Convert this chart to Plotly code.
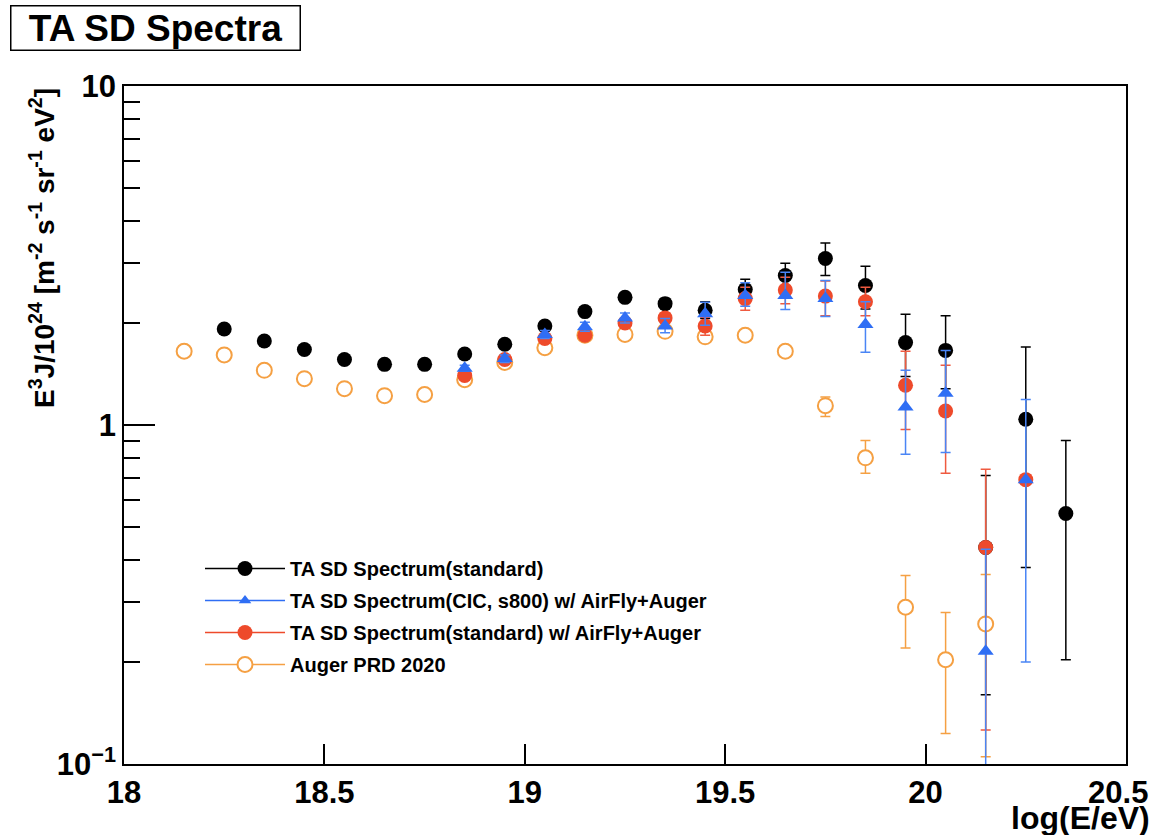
import plotly.graph_objects as go

# ---------------- data ----------------
# TA SD Spectrum (standard)
ta_x = [18.25, 18.35, 18.45, 18.55, 18.65, 18.75, 18.85, 18.95, 19.05, 19.15, 19.25, 19.35,
        19.45, 19.55, 19.65, 19.75, 19.85, 19.95, 20.05, 20.15, 20.25, 20.35]
ta_y = [1.92, 1.77, 1.67, 1.56, 1.51, 1.51, 1.62, 1.73, 1.96, 2.16, 2.38, 2.28,
        2.18, 2.51, 2.76, 3.10, 2.58, 1.75, 1.66, 0.435, 1.04, 0.548]
ta_hi = [1.95, 1.80, 1.70, 1.59, 1.54, 1.54, 1.66, 1.77, 2.01, 2.22, 2.45, 2.36,
         2.31, 2.69, 3.00, 3.44, 2.94, 2.12, 2.10, 0.71, 1.70, 0.90]
ta_lo = [1.89, 1.74, 1.64, 1.53, 1.48, 1.48, 1.58, 1.69, 1.91, 2.10, 2.31, 2.20,
         2.06, 2.35, 2.55, 2.76, 2.20, 1.39, 1.28, 0.16, 0.38, 0.203]

# TA SD Spectrum (CIC, s800) w/ AirFly+Auger
cic_x = [18.85, 18.95, 19.05, 19.15, 19.25, 19.35, 19.45, 19.55, 19.65, 19.75, 19.85,
         19.95, 20.05, 20.15, 20.25]
cic_y = [1.47, 1.57, 1.85, 1.95, 2.07, 1.96, 2.13, 2.41, 2.41, 2.36, 1.98,
         1.13, 1.24, 0.215, 0.69]
cic_hi = [1.50, 1.61, 1.90, 2.01, 2.14, 2.06, 2.30, 2.63, 2.82, 2.67, 2.31,
          1.45, 1.66, 0.43, 1.19]
cic_lo = [1.44, 1.53, 1.80, 1.89, 2.00, 1.87, 1.97, 2.24, 2.19, 2.09, 1.64,
          0.82, 0.83, 0.05, 0.20]

# TA SD Spectrum (standard) w/ AirFly+Auger
std_x = [18.85, 18.95, 19.05, 19.15, 19.25, 19.35, 19.45, 19.55, 19.65, 19.75, 19.85,
         19.95, 20.05, 20.15, 20.25]
std_y = [1.40, 1.56, 1.80, 1.84, 2.00, 2.07, 1.96, 2.36, 2.50, 2.40, 2.31,
         1.31, 1.10, 0.435, 0.69]
std_hi = [1.43, 1.60, 1.85, 1.90, 2.06, 2.14, 2.08, 2.55, 2.73, 2.66, 2.55,
          1.65, 1.50, 0.74, 0.69]
std_lo = [1.37, 1.52, 1.75, 1.78, 1.94, 2.00, 1.84, 2.18, 2.28, 2.10, 2.10,
          0.97, 0.72, 0.126, 0.69]

# Auger PRD 2020
aug_x = [18.15, 18.25, 18.35, 18.45, 18.55, 18.65, 18.75, 18.85, 18.95, 19.05, 19.15,
         19.25, 19.35, 19.45, 19.55, 19.65, 19.75, 19.85, 19.95, 20.05, 20.15]
aug_y = [1.65, 1.61, 1.45, 1.37, 1.28, 1.22, 1.23, 1.36, 1.53, 1.69, 1.84,
         1.85, 1.89, 1.82, 1.84, 1.65, 1.14, 0.80, 0.29, 0.203, 0.259]
aug_hi = [1.66, 1.62, 1.46, 1.38, 1.29, 1.23, 1.24, 1.37, 1.54, 1.70, 1.85,
          1.86, 1.90, 1.83, 1.86, 1.68, 1.21, 0.90, 0.36, 0.28, 0.362]
aug_lo = [1.64, 1.60, 1.44, 1.36, 1.27, 1.21, 1.22, 1.35, 1.52, 1.68, 1.83,
          1.84, 1.88, 1.81, 1.82, 1.62, 1.06, 0.72, 0.22, 0.123, 0.105]

names = ["TA SD Spectrum(standard)",
         "TA SD Spectrum(CIC, s800) w/ AirFly+Auger",
         "TA SD Spectrum(standard) w/ AirFly+Auger",
         "Auger PRD 2020"]

x_ticks = [18, 18.5, 19, 19.5, 20, 20.5]
x_ticktext = ["18", "18.5", "19", "19.5", "20", "20.5\u2002"]
y_ticks = [0.1, 1, 10]
y_ticktext = ["10<sup>\u22121</sup>", "1", "10"]
y_minor = [0.2, 0.3, 0.4, 0.5, 0.6, 0.7, 0.8, 0.9, 2, 3, 4, 5, 6, 7, 8, 9]

# ---------------- styles ----------------
BLACK = "#000000"
BLUE = "#2F6EF4"
BLUE_ERR = "#4A85F5"
RED = "#EE4A2B"
RED_ERR = "#EF5A40"
ORANGE = "#F5A043"
FONT = "Liberation Sans"


def err(y, hi, lo):
    return ([h - v for v, h in zip(y, hi)], [v - l for v, l in zip(y, lo)])


series = [
    # drawing order: black, orange, red, blue
    (ta_x, ta_y, ta_hi, ta_lo, BLACK, dict(symbol="circle", size=15, color=BLACK)),
    (aug_x, aug_y, aug_hi, aug_lo, ORANGE,
     dict(symbol="circle", size=15, color="white", line=dict(width=2, color=ORANGE))),
    (std_x, std_y, std_hi, std_lo, RED_ERR, dict(symbol="circle", size=15, color=RED)),
    (cic_x, cic_y, cic_hi, cic_lo, BLUE_ERR, dict(symbol="triangle-up", size=14, color=BLUE)),
]

fig = go.Figure()
for xs, ys, hi, lo, col, mk in series:
    up, dn = err(ys, hi, lo)
    fig.add_trace(go.Scatter(
        x=xs, y=ys, mode="markers", marker=mk, showlegend=False,
        error_y=dict(type="data", symmetric=False, array=up, arrayminus=dn,
                     color=col, thickness=1.5, width=5),
    ))

# legend entries (ROOT style: line + marker)
leg_styles = [
    (BLACK, dict(symbol="circle", size=15, color=BLACK)),
    (BLUE, dict(symbol="triangle-up", size=11, color=BLUE)),
    (RED, dict(symbol="circle", size=15, color=RED)),
    (ORANGE, dict(symbol="circle", size=15, color="white", line=dict(width=2, color=ORANGE))),
]
for i, (nm, (col, mk)) in enumerate(zip(names, leg_styles)):
    fig.add_trace(go.Scatter(x=[None], y=[None], mode="lines+markers", name=nm,
                             legendgroup=f"g{i}",
                             marker=mk, line=dict(color=col, width=1.5)))

W, H = 1155, 835
L, R, T, B = 124, 29, 86, 71
pw, ph = W - L - R, H - T - B

fig.update_layout(
    width=W, height=H,
    margin=dict(l=L, r=R, t=T, b=B, autoexpand=False),
    paper_bgcolor="white", plot_bgcolor="white",
    font=dict(family=FONT, color="black"),
    showlegend=True,
    legend=dict(
        x=(200 - L) / pw, y=(764 - 549) / ph, xanchor="left", yanchor="top",
        bgcolor="rgba(0,0,0,0)", borderwidth=0,
        font=dict(family=FONT, size=20, color="black", weight="bold"),
        itemwidth=80, tracegroupgap=3,
    ),
    xaxis=dict(
        range=[17.9999, 20.5001], tickvals=x_ticks, ticktext=x_ticktext,
        ticks="inside", ticklen=20, tickwidth=1.5, tickcolor="black",
        showgrid=False, zeroline=False, showline=True, linecolor="black",
        linewidth=1.5, mirror=True, ticklabeloverflow="allow", automargin=False,
        tickfont=dict(family=FONT, size=31, color="black", weight="bold"),
    ),
    yaxis=dict(
        type="log", range=[-1, 1], tickvals=y_ticks, ticktext=y_ticktext,
        ticks="inside", ticklen=31, tickwidth=1.5, tickcolor="black",
        minor=dict(tickvals=y_minor, ticks="inside", ticklen=16, tickwidth=1.5,
                   tickcolor="black", showgrid=False),
        showgrid=False, zeroline=False, showline=True, linecolor="black",
        linewidth=1.5, mirror=True, automargin=False,
        tickfont=dict(family=FONT, size=31, color="black", weight="bold"),
    ),
)

fig.add_annotation(
    xref="paper", yref="paper", x=(10 - L) / pw, y=(H - B - 5) / ph,
    xanchor="left", yanchor="top", showarrow=False,
    text="<b>TA SD Spectra</b>", font=dict(family=FONT, size=37, color="black"),
    width=288, height=43, bordercolor="black", borderwidth=1.5, borderpad=0,
    bgcolor="white", align="center",
)

fig.add_annotation(
    xref="paper", yref="paper", x=(1152 - L) / pw, y=(764 - 798) / ph,
    xanchor="right", yanchor="top", showarrow=False,
    text="<b>log(E/eV)</b>", font=dict(family=FONT, size=32, color="black"),
)

fig.add_annotation(
    xref="paper", yref="paper", x=(22 - L) / pw, y=(764 - 86) / ph,
    xanchor="left", yanchor="top", showarrow=False, textangle=-90,
    text="<b>E<sup>3</sup>J/10<sup>24</sup> [m<sup>-2</sup> s<sup>-1</sup> sr<sup>-1</sup> eV<sup>2</sup>]</b>",
    font=dict(family=FONT, size=28, color="black"),
)

fig.write_html("out.html")
